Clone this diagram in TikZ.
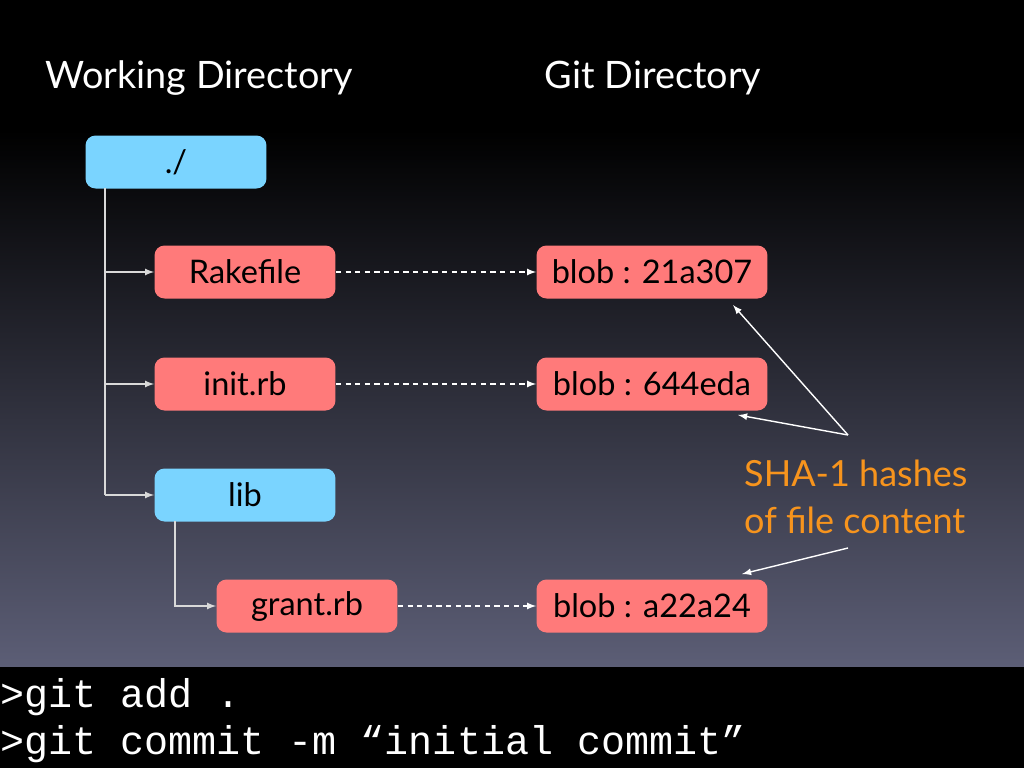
\documentclass[tikz,border=0pt]{standalone}
\usepackage{fontspec}
\setmainfont{Lato}
\setmonofont{Liberation Mono}
\usetikzlibrary{arrows}

\definecolor{dirblue}{RGB}{122,212,255}
\definecolor{blobred}{RGB}{255,122,122}
\definecolor{hashorange}{RGB}{247,148,29}
\definecolor{bgtop}{RGB}{0,0,0}
\definecolor{bgmid}{RGB}{30,30,60}
\definecolor{bgbot}{RGB}{92,94,118}

\tikzset{
  dirbox/.style={fill=dirblue, rounded corners=0.2cm, minimum width=3.62cm, minimum height=1.06cm, font=\fontsize{18.5}{22}\selectfont},
  filebox/.style={fill=blobred, rounded corners=0.2cm, minimum width=3.62cm, minimum height=1.06cm, font=\fontsize{18.5}{22}\selectfont},
  blobbox/.style={fill=blobred, rounded corners=0.2cm, minimum width=4.62cm, minimum height=1.06cm, font=\fontsize{18.5}{22}\selectfont},
  treeline/.style={draw=white!85!black, line width=0.8pt},
  hashline/.style={dashed, dash pattern=on 3pt off 2.5pt, white, line width=0.8pt}
}

\begin{document}
\begin{tikzpicture}[x=0.02cm, y=-0.02cm]
	\useasboundingbox (0,0) rectangle (1024,768);
	\fill[bgtop] (0,0) rectangle (1024,131);
	\shade[top color=bgtop, middle color=bgmid, bottom color=bgbot] (0,130) rectangle (1024,667);
	\fill[black] (0,667) rectangle (1024,768);

	\node[white, font=\fontsize{21.5}{25}\selectfont] (wd) at (199,78) {Working Directory};
	\node[white, font=\fontsize{21.5}{25}\selectfont] (gd) at (653,78) {Git Directory};

	\node[dirbox] (root) at (176,162) {./};
	\node[filebox] (rake) at (245,272) {Rakefile};
	\node[filebox] (init) at (245,384) {init.rb};
	\node[dirbox] (lib) at (245,495) {lib};
	\node[filebox] (grant) at (307,606) {grant.rb};

	\node[blobbox] (b1) at (652,272) {blob : 21a307};
	\node[blobbox] (b2) at (652,384) {blob : 644eda};
	\node[blobbox] (b3) at (652,606) {blob : a22a24};

	% tree
	\coordinate (t0) at (105,188);
	\coordinate (t1) at (175,521);
	\draw[treeline] (t0) -- (t0 |- lib.west);
	\foreach \n in {rake, init, lib}
		\draw[treeline, ->, >=latex] (t0 |- \n.west) -- (\n.west);
	\draw[treeline, ->, >=latex] (t1) |- (grant.west);

	% files to blobs
	\draw[hashline, ->, >=latex] (rake) -- (b1);
	\draw[hashline, ->, >=latex] (init) -- (b2);
	\draw[hashline, ->, >=latex] (grant) -- (b3);

	% hashes
	\node[hashorange, align=left, anchor=west, font=\fontsize{20.5}{26.5}\selectfont] (sha) at (738,497) {SHA-1 hashes\\of file content};
	\coordinate (s1) at (848,435);
	\coordinate (s2) at (848,548);
	\draw[white, line width=0.8pt, ->, >=latex] (s1) -- (733,305);
	\draw[white, line width=0.8pt, ->, >=latex] (s1) -- (738,415);
	\draw[white, line width=0.8pt, ->, >=latex] (s2) -- (742,574);

	% commands
	\node[white, anchor=west, inner sep=0pt, font=\ttfamily\fontsize{22.8}{27}\selectfont] (add) at (0,697) {>git add .};
	\node[white, anchor=west, inner sep=0pt, font=\ttfamily\fontsize{22.8}{27}\selectfont] (commit) at (0,744) {>git commit -m “initial commit”};
\end{tikzpicture}
\end{document}
